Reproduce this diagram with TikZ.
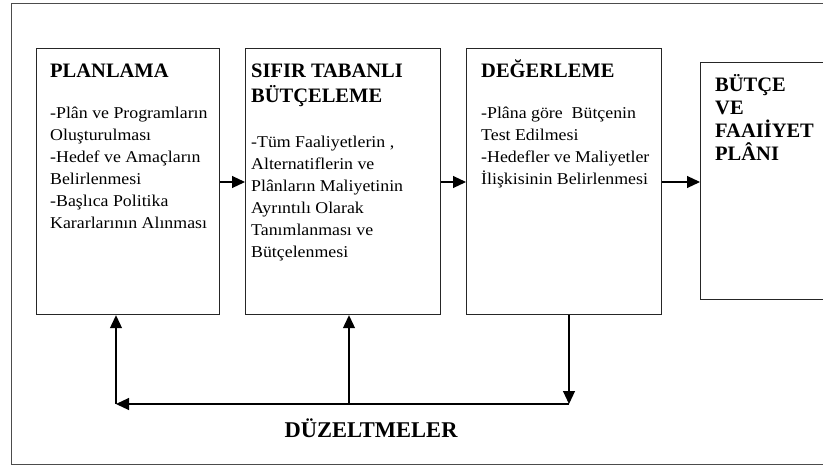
\documentclass[tikz,border=0pt]{standalone}
\usepackage{fontspec}
\setmainfont{Liberation Serif}
\newfontfamily\bodyfont[FakeStretch=1.08]{Liberation Serif}
\usetikzlibrary{arrows.meta}

\begin{document}
\begin{tikzpicture}[x=1pt, y=-1pt,
  box/.style={draw=black!85, line width=1.2pt, anchor=north west, inner sep=0pt},
  head/.style={anchor=base west, inner sep=0pt, align=left,
               font=\fontsize{20.5}{25}\selectfont\bfseries},
  body/.style={anchor=base west, inner sep=0pt, align=left,
               font=\fontsize{16.5}{22}\selectfont\bodyfont},
  flow/.style={draw, line width=1.1pt, -{Triangle[length=13pt, width=12pt]}}
]
  \useasboundingbox (0,0) rectangle (823,466);
  \draw[black!70, line width=1pt] (11,3) rectangle (860,464);

  \node[box, minimum width=183, minimum height=266] (plan)  at (36,48)  {};
  \node[box, minimum width=195, minimum height=266] (sifir) at (245,48) {};
  \node[box, minimum width=195, minimum height=266] (deger) at (466,48) {};
  \node[box, minimum width=160, minimum height=237] (butce) at (700,62) {};

  \node[head] (planT)  at (50,77)  {PLANLAMA};
  \node[body] (planB)  at (50,228) {-Plân ve Programların\\Oluşturulması\\-Hedef ve Amaçların\\Belirlenmesi\\-Başlıca Politika\\Kararlarının Alınması};
  \node[head] (sifirT) at (251,102) {SIFIR TABANLI\\BÜTÇELEME};
  \node[body] (sifirB) at (251,257) {-Tüm Faaliyetlerin ,\\Alternatiflerin ve\\Plânların Maliyetinin\\Ayrıntılı Olarak\\Tanımlanması ve\\Bütçelenmesi};
  \node[head] (degerT) at (481,77)  {DEĞERLEME};
  \node[body] (degerB) at (481,184) {-Plâna göre~~Bütçenin\\Test Edilmesi\\-Hedefler ve Maliyetler\\İlişkisinin Belirlenmesi};
  \node[head, font=\fontsize{20.5}{22.7}\selectfont\bfseries] (butceT) at (715,160) {BÜTÇE\\VE\\FAAIİYET\\PLÂNI};

  \node[anchor=base, inner sep=0pt, font=\fontsize{22.5}{27}\selectfont\bfseries] (duz) at (371,437) {DÜZELTMELER};

  \coordinate (row) at (0,182);
  \coordinate (fbL) at (116,404);
  \coordinate (fbM) at (349,404);
  \coordinate (fbR) at (569,404);

  \draw[flow] (plan.east |- row)  -- (sifir.west |- row);
  \draw[flow] (sifir.east |- row) -- (deger.west |- row);
  \draw[flow] (deger.east |- row) -- (butce.west |- row);

  \draw[flow] (deger.south -| fbR) -- (fbR);
  \draw[flow] (fbR) -- (fbL);
  \draw[flow] (fbL) -- (plan.south -| fbL);
  \draw[flow] (fbM) -- (sifir.south -| fbM);
\end{tikzpicture}
\end{document}
